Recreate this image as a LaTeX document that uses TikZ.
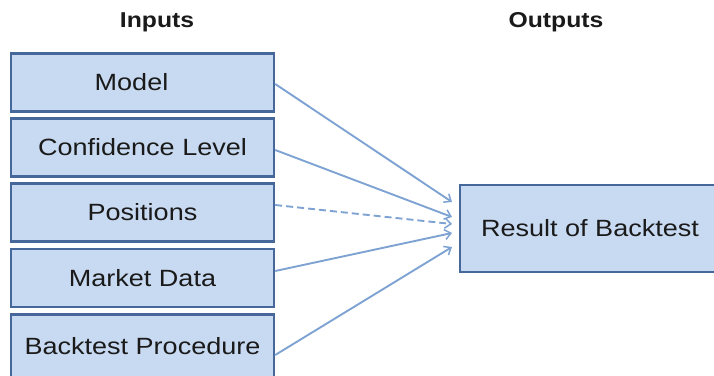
\documentclass[tikz,border=0pt]{standalone}
\usepackage{fontspec}
\setmainfont{Liberation Sans}[FakeStretch=1.15]
\usetikzlibrary{arrows.meta}
\definecolor{boxfill}{HTML}{C8DAF1}
\definecolor{boxline}{HTML}{46679A}
\definecolor{conn}{HTML}{7EA3D3}
\definecolor{txt}{HTML}{1A1A1A}
\tikzset{
  inbox/.style={draw=boxline, fill=boxfill, line width=2.4pt, minimum width=263pt, minimum height=58pt, inner sep=0pt, text=txt, font=\fontsize{23.5}{27}\selectfont},
  outbox/.style={inbox, minimum width=260pt, minimum height=87pt},
  header/.style={text=txt, font=\fontsize{21.5}{25}\selectfont\bfseries, inner sep=0pt},
  conn/.style={draw=conn, line width=1.9pt, -{Straight Barb[length=6pt,width=10pt,line width=1.5pt]}},
}
\begin{document}
\begin{tikzpicture}[x=1pt,y=-1pt]
\useasboundingbox (0,0) rectangle (714,375);
\clip (0,0) rectangle (714,375);
\node[header] (hin) at (157,22) {Inputs};
\node[header] (hout) at (556,22) {Outputs};
\node[inbox] (m) at (142.5,82.5) {Model\kern22pt};
\node[inbox] (c) at (142.5,147.5) {Confidence Level};
\node[inbox] (p) at (142.5,212.5) {Positions};
\node[inbox] (d) at (142.5,278) {Market Data};
\node[inbox, minimum height=64pt] (b) at (142.5,346.5) {Backtest Procedure};
\node[outbox] (r) at (590,228.5) {Result of Backtest};
\coordinate (t1) at (452,202);
\coordinate (t2) at (452,217);
\coordinate (t3) at (452,224);
\coordinate (t4) at (452,233);
\coordinate (t5) at (452,247);
\draw[conn] ([yshift=-1.5pt]m.east) -- (t1);
\draw[conn] ([yshift=-2.5pt]c.east) -- (t2);
\draw[conn, dashed, dash pattern=on 7pt off 4pt] ([yshift=7.5pt]p.east) -- (t3);
\draw[conn] ([yshift=7pt]d.east) -- (t4);
\draw[conn] ([yshift=-8.5pt]b.east) -- (t5);
\end{tikzpicture}
\end{document}
